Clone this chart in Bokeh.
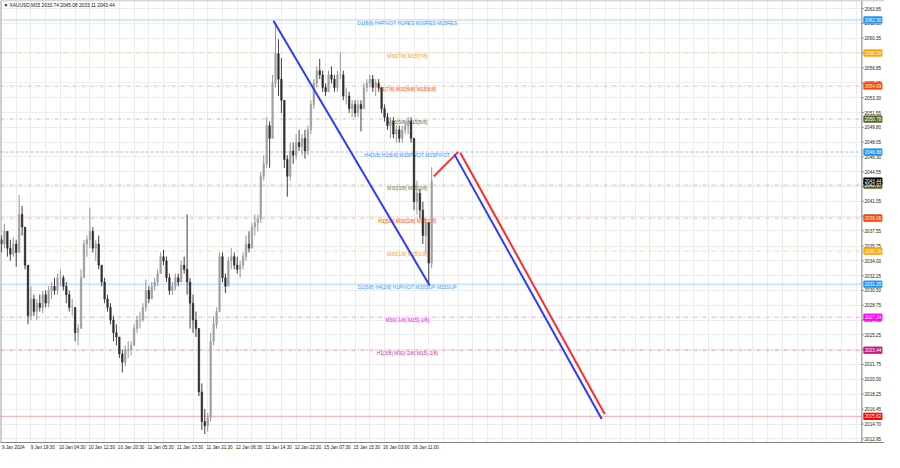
from bokeh.plotting import figure
from bokeh.models import Range1d, FixedTicker, Label, Span, ColumnDataSource, BoxAnnotation
from bokeh.core.properties import value
from bokeh.embed import file_html
from bokeh.resources import INLINE

# ---------------- data ----------------
title_text = "\u25bc XAUUSD,M15  2033.74 2045.08 2033.11 2043.44"

first_open = 2036.5
closes = [2036.0, 2037.5, 2035.5, 2034.8, 2036.0, 2035.0, 2039.5, 2038.0, 2033.5, 2027.5,
          2029.5, 2028.0, 2029.0, 2028.5, 2030.0, 2029.0, 2030.5, 2031.0, 2030.5, 2032.0,
          2032.0, 2031.0, 2030.0, 2028.5, 2028.5, 2025.5, 2026.0, 2032.0, 2036.0, 2036.5,
          2037.5, 2035.5, 2036.0, 2033.5, 2031.5, 2029.5, 2028.5, 2027.0, 2025.5, 2025.0,
          2023.0, 2022.0, 2023.5, 2023.5, 2024.0, 2026.0, 2027.0, 2027.0, 2028.5, 2030.5,
          2029.5, 2031.0, 2031.5, 2032.5, 2034.5, 2034.0, 2032.0, 2030.5, 2031.0, 2032.0,
          2031.5, 2033.5, 2033.0, 2031.5, 2029.0, 2027.0, 2026.0, 2018.5, 2015.0, 2014.5,
          2015.5, 2024.5, 2026.5, 2028.0, 2034.5, 2032.0, 2031.0, 2034.0, 2034.5, 2033.5,
          2033.0, 2033.5, 2034.5, 2036.0, 2035.5, 2038.0, 2038.5, 2039.0, 2044.0, 2045.5,
          2050.0, 2048.5, 2055.0, 2058.5, 2055.5, 2053.0, 2046.0, 2044.0, 2047.0, 2046.5,
          2048.0, 2047.5, 2048.5, 2047.0, 2049.5, 2052.5, 2055.0, 2056.5, 2056.0, 2054.5,
          2054.0, 2056.0, 2055.5, 2054.5, 2056.0, 2056.0, 2053.5, 2053.5, 2052.0, 2052.5,
          2051.5, 2052.5, 2052.0, 2054.5, 2055.0, 2055.5, 2054.5, 2055.0, 2054.5, 2052.0,
          2051.0, 2050.0, 2050.5, 2049.0, 2049.5, 2048.5, 2049.5, 2050.0, 2050.5, 2048.5,
          2041.0, 2042.0, 2040.0, 2037.0, 2038.5, 2033.74, 2043.44]
highs = [2037.0, 2038.4, 2037.5, 2036.5, 2036.8, 2036.5, 2041.8, 2040.5, 2038.0, 2033.5,
         2031.0, 2030.0, 2029.5, 2030.0, 2030.5, 2030.5, 2031.0, 2031.5, 2032.0, 2032.5,
         2033.0, 2032.3, 2031.5, 2030.5, 2029.5, 2028.5, 2026.5, 2033.0, 2036.5, 2037.0,
         2040.3, 2038.0, 2036.5, 2037.0, 2033.5, 2032.0, 2030.0, 2029.0, 2027.5, 2026.5,
         2025.0, 2023.5, 2024.0, 2024.5, 2024.5, 2026.5, 2027.5, 2028.0, 2029.0, 2031.8,
         2031.0, 2031.5, 2032.0, 2033.0, 2035.0, 2035.3, 2034.5, 2032.5, 2031.5, 2032.5,
         2032.5, 2034.0, 2034.5, 2039.5, 2032.0, 2030.0, 2028.0, 2026.0, 2019.5, 2016.5,
         2016.0, 2025.5, 2027.5, 2028.5, 2035.0, 2035.0, 2032.5, 2034.5, 2035.5, 2035.0,
         2034.5, 2034.0, 2035.0, 2037.0, 2037.5, 2038.5, 2039.5, 2039.5, 2044.5, 2046.5,
         2051.0, 2050.5, 2056.0, 2062.2, 2060.2, 2058.0, 2053.0, 2046.5, 2048.0, 2048.0,
         2049.0, 2049.5, 2049.0, 2049.5, 2050.0, 2053.0, 2055.5, 2057.0, 2057.9, 2056.5,
         2055.0, 2056.5, 2057.0, 2056.0, 2056.5, 2058.7, 2056.5, 2054.5, 2054.0, 2053.0,
         2053.0, 2053.0, 2053.0, 2055.0, 2055.5, 2056.0, 2056.0, 2055.5, 2055.5, 2054.5,
         2052.5, 2051.5, 2051.0, 2051.0, 2050.0, 2050.0, 2050.0, 2050.5, 2051.0, 2051.0,
         2048.5, 2043.5, 2042.5, 2041.0, 2039.0, 2038.5, 2045.08]
lows = [2035.0, 2035.5, 2034.5, 2034.0, 2034.5, 2033.3, 2035.0, 2037.0, 2033.0, 2026.5,
        2027.0, 2027.5, 2027.0, 2028.0, 2027.8, 2028.5, 2028.5, 2029.5, 2030.0, 2030.0,
        2031.0, 2030.5, 2029.0, 2028.0, 2027.5, 2024.5, 2024.0, 2026.0, 2032.0, 2034.5,
        2035.5, 2035.0, 2034.0, 2033.0, 2031.0, 2029.0, 2028.0, 2026.5, 2024.5, 2024.0,
        2022.5, 2020.8, 2021.5, 2022.5, 2022.8, 2024.0, 2025.5, 2026.0, 2026.8, 2028.0,
        2029.0, 2029.5, 2030.5, 2031.0, 2032.5, 2033.5, 2031.5, 2030.0, 2030.0, 2030.5,
        2031.0, 2031.5, 2032.5, 2030.0, 2026.0, 2025.5, 2025.0, 2018.0, 2014.0, 2013.5,
        2013.8, 2015.0, 2024.0, 2026.0, 2028.0, 2031.5, 2030.2, 2031.0, 2033.0, 2033.0,
        2032.5, 2032.0, 2033.0, 2034.0, 2035.0, 2035.5, 2037.0, 2037.5, 2038.5, 2043.5,
        2045.0, 2045.0, 2048.5, 2054.5, 2053.5, 2051.5, 2045.0, 2041.6, 2043.5, 2045.5,
        2046.0, 2047.0, 2046.5, 2046.1, 2046.5, 2049.0, 2052.0, 2054.5, 2055.5, 2054.0,
        2053.5, 2054.0, 2055.0, 2054.0, 2054.0, 2055.5, 2053.0, 2052.5, 2051.5, 2051.0,
        2051.0, 2051.0, 2049.3, 2052.0, 2054.0, 2054.5, 2054.0, 2053.5, 2054.0, 2051.5,
        2050.5, 2049.5, 2048.5, 2048.5, 2048.0, 2048.0, 2048.0, 2049.0, 2049.0, 2048.0,
        2040.0, 2039.5, 2039.0, 2036.0, 2035.0, 2031.1, 2033.11]

# price levels (murrey-math style lines)
level_prices = [2062.50, 2058.59, 2054.69, 2050.78, 2046.88, 2042.97, 2039.06, 2035.16,
                2031.25, 2027.34, 2023.44, 2015.62]
level_texts = ["D1[8/8] H4PIVOT H1RES M30RES M15RES", "M30[7/8] M15[7/8]",
               "H1[7/8] M30[6/8] M15[6/8]", "M30[5/8] M15[5/8]",
               "H4[3/8] H1[6/8] M30PIVOT M15PIVOT", "M30[3/8] M15[3/8]",
               "H1[5/8] M30[2/8] M15[2/8]", "M30[1/8] M15[1/8]",
               "D1[5/8] H4[2/8] H1PIVOT M30SUP M15SUP", "M30[-1/8] M15[-1/8]",
               "H1[3/8] M30[-2/8] M15[-2/8]", ""]
level_line_colors = ["#a9d4ff", "#ffd49a", "#ffb39a", "#c2c5b0", "#8cc4ff", "#c8c8b0",
                     "#ffb39a", "#ffd49a", "#a9d4ff", "#ff99ff", "#e59ad4", "#ffa0a0"]
level_text_colors = ["#3399ff", "#f0a020", "#ff4500", "#556b2f", "#2f8fff", "#6b7b3a",
                     "#ff4500", "#f0a020", "#3399ff", "#ff00ff", "#cc2e9e", "#ff0000"]
level_box_colors = ["#2196f3", "#ffa500", "#ff4500", "#556b2f", "#2196f3", "#556b2f",
                    "#ff4500", "#ffa500", "#2196f3", "#ff00ff", "#c71585", "#ff0000"]
level_dashes = ["solid", "4 2 1 2", "4 2 1 2", "4 2 1 2", "3 2", "4 2 1 2",
                "4 2 1 2", "4 2 1 2", "solid", "4 2 1 2", "4 2 1 2", "solid"]
bid_price = 2043.44

# trend lines (bar index, price)
trend_x0 = [92.3, 146.7, 155.7, 153.7]
trend_y0 = [2062.4, 2044.0, 2046.8, 2046.6]
trend_x1 = [145.3, 155.0, 204.7, 203.7]
trend_y1 = [2031.1, 2046.9, 2015.9, 2015.3]
trend_colors = ["#2b3cff", "#ff2b2b", "#ff2b2b", "#2b3cff"]

# axes
price_ticks = [2063.85, 2062.10, 2060.35, 2058.60, 2056.85, 2055.05, 2053.30, 2051.55,
               2049.80, 2048.05, 2046.30, 2044.55, 2042.80, 2041.05, 2039.30, 2037.55,
               2035.75, 2034.00, 2032.25, 2030.50, 2028.75, 2027.00, 2025.25, 2023.50,
               2021.75, 2020.00, 2018.25, 2016.45, 2014.70, 2012.95]
time_ticks = [4, 14, 24, 34, 44, 54, 64, 74, 84, 94, 104, 114, 124, 134, 144]
time_labels = ["9 Jan 2024", "9 Jan 19:30", "10 Jan 04:30", "10 Jan 12:30", "10 Jan 20:30",
               "11 Jan 05:30", "11 Jan 13:30", "11 Jan 21:30", "12 Jan 06:30", "12 Jan 14:30",
               "12 Jan 22:30", "15 Jan 07:30", "15 Jan 15:30", "16 Jan 03:00", "16 Jan 11:00"]

FONT = "Liberation Sans"
X0, X1 = -0.33, 299.67      # bar-index range of the whole canvas width
SCALE_X = 292.0             # bar index where the price scale starts
Y0, Y1 = 2012.52, 2064.80

# ---------------- figure ----------------
p = figure(width=884, height=452, output_backend="svg", toolbar_location=None,
           x_range=Range1d(X0, X1), y_range=Range1d(Y0, Y1),
           y_axis_location=None, min_border_left=0, min_border_top=0,
           min_border_right=0, min_border_bottom=9)
p.background_fill_color = "white"
p.border_fill_color = "white"
p.outline_line_color = None

# grid
p.ygrid.ticker = FixedTicker(ticks=price_ticks)
p.ygrid.grid_line_color = "#ececec"
p.xgrid.grid_line_color = "#ececec"
p.xgrid.ticker = FixedTicker(ticks=list(range(0, 292, 5)))

# x axis
p.xaxis.ticker = FixedTicker(ticks=time_ticks)
p.xaxis.major_label_overrides = {t: s for t, s in zip(time_ticks, time_labels)}
p.xaxis.major_label_text_font_size = "4.6px"
p.xaxis.major_label_text_font = FONT
p.xaxis.major_label_text_color = "#222222"
p.xaxis.major_tick_line_color = None
p.xaxis.major_tick_out = 0
p.xaxis.major_tick_in = 0
p.xaxis.minor_tick_line_color = None
p.xaxis.minor_tick_out = 0
p.xaxis.major_label_standoff = 2
p.xaxis.axis_line_color = "#808080"

# level lines
for price, col, dash in zip(level_prices, level_line_colors, level_dashes):
    p.add_layout(Span(location=price, dimension="width", line_color=col,
                      line_dash=dash, line_width=1, level="underlay"))

# blank price-scale area, frame borders
p.add_layout(BoxAnnotation(left=SCALE_X, fill_color="white", fill_alpha=1.0,
                           line_color=None, level="underlay"))
p.add_layout(Span(location=SCALE_X, dimension="height", line_color="#808080", line_width=1))
p.add_layout(Span(location=X0 + 0.1, dimension="height", line_color="#808080", line_width=1))
p.add_layout(Span(location=Y1 - 0.02, dimension="width", line_color="#a0a0a0", line_width=1))

# level texts
lvl_src = ColumnDataSource(dict(x=[137.7] * len(level_prices), y=level_prices,
                                t=level_texts, c=level_text_colors))
p.text(x="x", y="y", text="t", text_color="c", source=lvl_src,
       text_font=value(FONT), text_font_size="5px", text_align="center",
       text_baseline="top")

# candles
idx = list(range(len(closes)))
opens = [first_open] + closes[:-1]
hi = [max(h, o, c) for h, o, c in zip(highs, opens, closes)]
lo = [min(l, o, c) for l, o, c in zip(lows, opens, closes)]
top = [max(o, c) for o, c in zip(opens, closes)]
bot = [min(o, c) for o, c in zip(opens, closes)]
body_col = ["#a0a0a0" if c >= o else "#2e2e2e" for o, c in zip(opens, closes)]
wick_col = ["#959595" if c >= o else "#404040" for o, c in zip(opens, closes)]
csrc = ColumnDataSource(dict(x=idx, hi=hi, lo=lo, top=top, bot=bot, bc=body_col, wc=wick_col))
p.segment(x0="x", y0="lo", x1="x", y1="hi", line_color="wc", line_width=1, source=csrc)
p.vbar(x="x", width=0.55, top="top", bottom="bot", fill_color="bc", line_color="bc",
       line_width=0.5, source=csrc)

# trend lines
tsrc = ColumnDataSource(dict(x0=trend_x0, y0=trend_y0, x1=trend_x1, y1=trend_y1, c=trend_colors))
p.segment(x0="x0", y0="y0", x1="x1", y1="y1", line_color="c", line_width=2, source=tsrc)

# price scale: tick marks and labels
tick_src = ColumnDataSource(dict(y=price_ticks, t=["%.2f" % v for v in price_ticks]))
p.segment(x0=SCALE_X, x1=SCALE_X + 0.6, y0="y", y1="y", line_color="#808080",
          line_width=1, source=tick_src)
p.text(x=SCALE_X + 0.9, y="y", text="t", source=tick_src, text_color="#222222",
       text_font=value(FONT), text_font_size="4.6px", text_align="left",
       text_baseline="middle")

# coloured price boxes on the scale
box_prices = level_prices + [bid_price]
box_colors = level_box_colors + ["#000000"]
box_src = ColumnDataSource(dict(y=box_prices, top=[v + 0.37 for v in box_prices],
                                bot=[v - 0.37 for v in box_prices],
                                t=["%.2f" % v for v in box_prices], c=box_colors))
p.quad(left=SCALE_X + 0.67, right=SCALE_X + 6.8, top="top", bottom="bot",
       fill_color="c", line_color="c", source=box_src)
p.text(x=SCALE_X + 0.95, y="y", text="t", source=box_src, text_color="white",
       text_font=value(FONT), text_font_size="4.6px", text_align="left",
       text_baseline="middle")

# title
p.add_layout(Label(x=0.7, y=2064.55, text=title_text, text_color="#111111",
                   text_font=FONT, text_font_size="4.8px", text_align="left",
                   text_baseline="top"))

open("out.html", "w").write(file_html(p, INLINE))
